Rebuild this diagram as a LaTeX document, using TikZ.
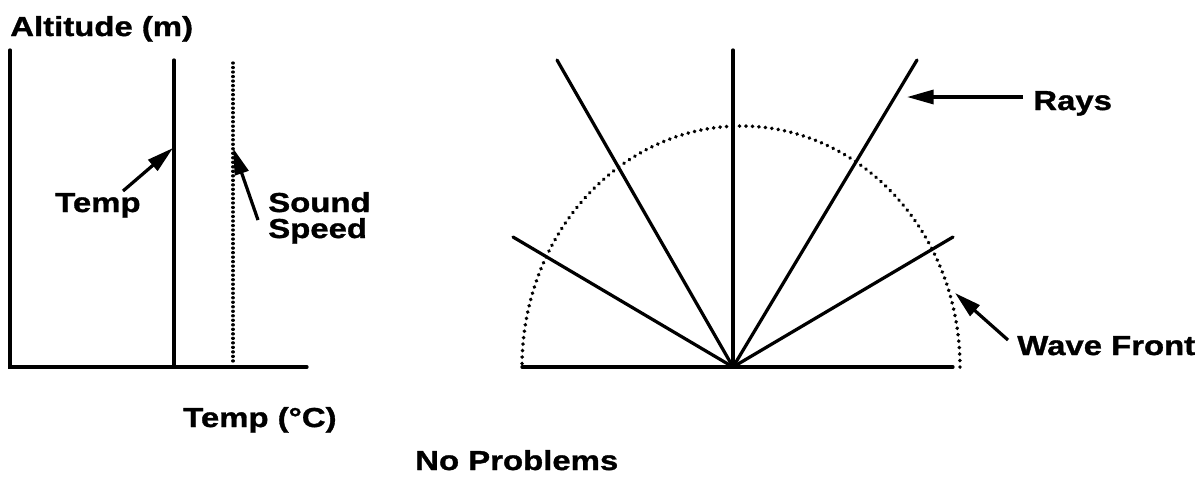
\documentclass[tikz,border=0pt]{standalone}
\usepackage{fontspec}
\setmainfont{Liberation Sans}[FakeStretch=1.2,BoldFeatures={FakeBold=1.2}]
\usetikzlibrary{arrows.meta}
\begin{document}
\begin{tikzpicture}[x=0.025cm,y=-0.025cm,
  lab/.style={inner sep=0pt,anchor=base west,font=\fontsize{19.5}{24}\selectfont\bfseries},
  solidline/.style={line width=2.3pt,line cap=round},
  dotline/.style={line width=2.8pt,line cap=round,dash pattern=on 0.01pt off 4.6pt},
  pointer/.style={line width=2.3pt,-{Triangle[length=19pt,width=10pt]}}]
\useasboundingbox (0,0) rectangle (1200,483);
% left chart
\draw[solidline] (10,50) -- (10,367) -- (307,367);
\draw[solidline] (174,60) -- (174,366);
\draw[dotline,line width=2.4pt,dash pattern=on 0.01pt off 3.2pt] (233,63) -- (233,363);
\node[lab] (alt) at (10,36) {Altitude (m)};
\node[lab] (tlab) at (55,212) {Temp};
\node[lab] (sound) at (268,212) {Sound};
\node[lab] (speed) at (268,238) {Speed};
\node[lab] (xlab) at (183,427) {Temp (°C)};
\coordinate (ttail) at (123,191);
\coordinate (ttip) at (173,148);
\coordinate (stail) at (258,220);
\coordinate (stip) at (233,148);
\draw[pointer] (ttail) -- (ttip);
\draw[pointer] (stail) -- (stip);
% title
\node[lab] (nop) at (415,470) {No Problems};
% right diagram
\coordinate (o) at (733,367);
\draw[solidline] (522,367) -- (953,367);
\draw[dotline] (960,367) arc[start angle=0,end angle=-180,x radius=219,y radius=241];
\draw[solidline] (o) -- (733,50);
\draw[solidline] (o) -- (557,60);
\draw[solidline] (o) -- (917,60);
\draw[solidline] (o) -- (513,237);
\draw[solidline] (o) -- (953,237);
\node[lab] (rays) at (1033,110) {Rays};
\node[lab] (wave) at (1017,355) {Wave Front};
\coordinate (rtail) at (1023,97);
\coordinate (rtip) at (907,97);
\coordinate (wtail) at (1008,340);
\coordinate (wtip) at (955,293);
\draw[pointer] (rtail) -- (rtip);
\draw[pointer] (wtail) -- (wtip);
\end{tikzpicture}
\end{document}
